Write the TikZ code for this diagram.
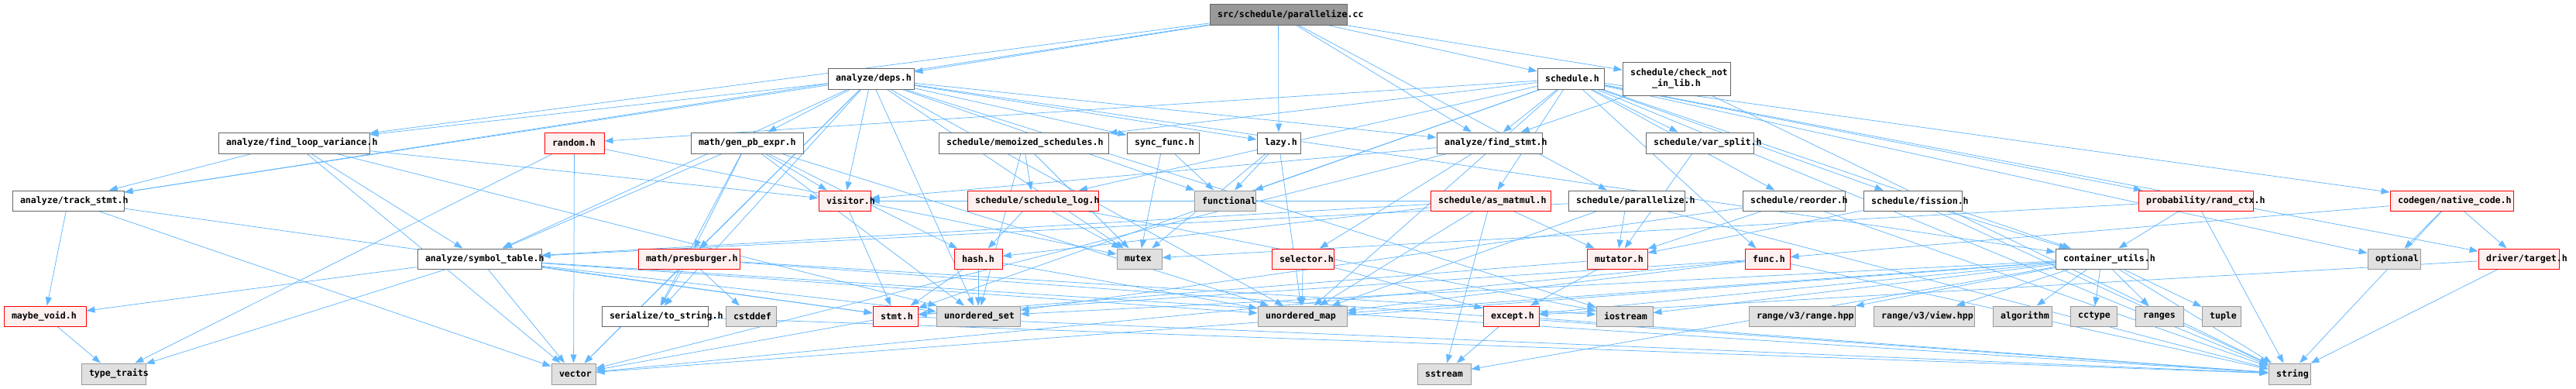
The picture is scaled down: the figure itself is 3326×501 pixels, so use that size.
\documentclass[tikz,border=0pt]{standalone}
\usepackage{fontspec}
\usetikzlibrary{arrows.meta}
\newfontfamily\dox{DejaVu Sans Mono}[BoldFont={DejaVu Sans Mono Bold}]
\definecolor{edgec}{HTML}{63B8FF}
\definecolor{wborder}{HTML}{666666}
\definecolor{rfill}{HTML}{FFF0F0}
\definecolor{rborder}{HTML}{FF0000}
\definecolor{gfill}{HTML}{E0E0E0}
\definecolor{gborder}{HTML}{999999}
\definecolor{tfill}{HTML}{999999}
\pgfdeclarelayer{paper}
\pgfdeclarelayer{bg}
\pgfsetlayers{paper,bg,main}
\tikzset{
  boxbase/.style={rectangle, line width=1pt, inner xsep=10pt, inner ysep=0pt, align=left,
    font=\dox\bfseries\fontsize{11.6}{14}\selectfont},
  wbox/.style={boxbase, draw=wborder, fill=white},
  rbox/.style={boxbase, draw=rborder, fill=rfill},
  gbox/.style={boxbase, draw=gborder, fill=gfill},
  tbox/.style={boxbase, draw=wborder, fill=tfill},
  dep/.style={draw=edgec, line width=0.75pt, -{Triangle[length=11pt,width=8pt]}}
}
\newcommand\bx[7]{%
  \pgfmathsetmacro\bxw{#3-#2-20}%
  \pgfmathsetmacro\bxh{#5-#4}%
  \pgfmathsetmacro\bxx{(#2+#3)/2}%
  \pgfmathsetmacro\bxy{(#4+#5)/2}%
  \node[#6, text width=\bxw pt, minimum height=\bxh pt] (#1) at (\bxx,\bxy) {\mbox{#7}};}
\begin{document}
\begin{tikzpicture}[x=1pt,y=-1pt]
\useasboundingbox (0,0) rectangle (3326,501);
\begin{pgfonlayer}{paper}
\fill[white] (0,0) rectangle (3326,501);
\end{pgfonlayer}
% row 0
\bx{T}{1562}{1739}{5}{32}{tbox}{src/schedule/parallelize.cc}
% row 1
\bx{deps}{1069}{1180}{88}{115}{wbox}{analyze/deps.h}
\bx{sched}{1985}{2071}{88}{115}{wbox}{schedule.h}
\pgfmathsetmacro\bxw{139-20}
\node[wbox, align=center, text width=\bxw pt, minimum height=43pt] (cnil) at (2164.5,101.5) {schedule/check\_not\\\_in\_lib.h};
% row 2
\bx{fl}{282}{477}{171}{198}{wbox}{analyze/find\_loop\_variance.h}
\bx{random}{703}{780}{171}{198}{rbox}{random.h}
\bx{gpb}{892}{1037}{171}{198}{wbox}{math/gen\_pb\_expr.h}
\bx{memo}{1212}{1431}{171}{198}{wbox}{schedule/memoized\_schedules.h}
\bx{sync}{1455}{1548}{171}{198}{wbox}{sync\_func.h}
\bx{lazy}{1623}{1679}{171}{198}{wbox}{lazy.h}
\bx{fs}{1855}{1991}{171}{198}{wbox}{analyze/find\_stmt.h}
\bx{vs}{2125}{2264}{171}{198}{wbox}{schedule/var\_split.h}
% row 3
\bx{ts}{16}{160}{246}{272}{wbox}{analyze/track\_stmt.h}
\bx{visitor}{1057}{1124}{246}{272}{rbox}{visitor.h}
\bx{slog}{1249}{1418}{246}{272}{rbox}{schedule/schedule\_log.h}
\bx{functional}{1542}{1621}{246}{272}{gbox}{functional}
\bx{asm}{1847}{2002}{246}{272}{rbox}{schedule/as\_matmul.h}
\bx{parh}{2025}{2175}{246}{272}{wbox}{schedule/parallelize.h}
\bx{reorder}{2250}{2382}{246}{272}{wbox}{schedule/reorder.h}
\bx{fission}{2406}{2533}{246}{272}{wbox}{schedule/fission.h}
\bx{randctx}{2761}{2909}{246}{272}{rbox}{probability/rand\_ctx.h}
\bx{native}{3086}{3245}{246}{272}{rbox}{codegen/native\_code.h}
% row 4
\bx{symtab}{539}{699}{321}{347}{wbox}{analyze/symbol\_table.h}
\bx{presb}{824}{955}{321}{347}{rbox}{math/presburger.h}
\bx{hash}{1232}{1294}{321}{347}{rbox}{hash.h}
\bx{mutex}{1442}{1500}{321}{347}{gbox}{mutex}
\bx{selector}{1642}{1722}{321}{347}{rbox}{selector.h}
\bx{mutator}{2049}{2127}{321}{347}{rbox}{mutator.h}
\bx{func}{2253}{2311}{321}{347}{rbox}{func.h}
\bx{cu}{2654}{2773}{321}{347}{wbox}{container\_utils.h}
\bx{optional}{3057}{3125}{321}{347}{gbox}{optional}
\bx{target}{3200}{3304}{321}{347}{rbox}{driver/target.h}
% row 5
\bx{mvoid}{5}{111}{395}{421}{rbox}{maybe\_void.h}
\bx{tostr}{777}{914}{395}{421}{wbox}{serialize/to\_string.h}
\bx{cstddef}{937}{1002}{395}{421}{gbox}{cstddef}
\bx{stmt}{1127}{1185}{395}{421}{rbox}{stmt.h}
\bx{uset}{1209}{1317}{395}{421}{gbox}{unordered\_set}
\bx{umap}{1624}{1739}{395}{421}{gbox}{unordered\_map}
\bx{except}{1915}{1987}{395}{421}{rbox}{except.h}
\bx{iostream}{2061}{2134}{395}{421}{gbox}{iostream}
\bx{rrange}{2258}{2395}{395}{421}{gbox}{range/v3/range.hpp}
\bx{rview}{2419}{2549}{395}{421}{gbox}{range/v3/view.hpp}
\bx{algorithm}{2573}{2649}{395}{421}{gbox}{algorithm}
\bx{cctype}{2673}{2733}{395}{421}{gbox}{cctype}
\bx{ranges}{2757}{2819}{395}{421}{gbox}{ranges}
\bx{tuple}{2843}{2893}{395}{421}{gbox}{tuple}
% row 6
\bx{tt}{105}{188}{469}{496}{gbox}{type\_traits}
\bx{vector}{712}{769}{469}{496}{gbox}{vector}
\bx{sstream}{1830}{1899}{469}{496}{gbox}{sstream}
\bx{string}{2929}{2983}{469}{496}{gbox}{string}
\begin{pgfonlayer}{bg}
\foreach \src/\dst in {
 T/deps, T/fl, T/ts, T/lazy, T/fs, T/sched, T/cnil, T/parh,
 deps/fl, deps/ts, deps/symtab, deps/gpb, deps/presb, deps/visitor, deps/sync, deps/lazy,
 deps/fs, deps/functional, deps/mutex, deps/umap, deps/uset, deps/vector, deps/iostream, deps/cu,
 deps/tostr,
 sched/memo, sched/slog, sched/random, sched/fs, sched/vs, sched/asm, sched/reorder, sched/fission,
 sched/randctx, sched/native, sched/target, sched/func, sched/cu, sched/functional, sched/stmt,
 sched/umap, sched/string, sched/optional,
 cnil/fs, cnil/string,
 fl/ts, fl/symtab, fl/visitor, fl/vector, fl/uset,
 ts/mvoid, ts/stmt, ts/vector,
 mvoid/tt,
 symtab/mvoid, symtab/stmt, symtab/uset, symtab/umap, symtab/string, symtab/vector, symtab/tt,
 gpb/symtab, gpb/presb, gpb/visitor, gpb/hash, gpb/uset, gpb/umap, gpb/tostr,
 presb/tostr, presb/cstddef, presb/vector, presb/string, presb/iostream,
 random/tt, random/mutex, random/vector,
 memo/slog, memo/mutex, memo/uset,
 sync/functional, sync/mutex,
 lazy/functional, lazy/mutex, lazy/umap,
 visitor/stmt,
 slog/hash, slog/mutex, slog/iostream,
 hash/stmt, hash/uset, hash/umap,
 asm/mutator, asm/sstream, asm/umap, asm/symtab, asm/visitor, asm/hash,
 parh/mutator, parh/symtab, parh/umap, parh/string,
 reorder/mutator, reorder/string, reorder/uset,
 fission/mutator, fission/string, fission/cu,
 vs/mutator,
 randctx/cu, randctx/string, randctx/mutex,
 native/optional, native/target, native/string, native/func,
 target/string, target/except,
 func/stmt, func/umap, func/string, func/vector,
 cu/rrange, cu/rview, cu/algorithm, cu/cctype, cu/ranges, cu/tuple, cu/string, cu/iostream,
 cu/sstream, cu/umap, cu/uset, cu/vector, cu/except,
 mutator/except, mutator/stmt,
 except/sstream, except/string,
 selector/umap, selector/except,
 stmt/vector, stmt/string,
 fs/selector, fs/visitor, fs/vector,
 tostr/string}
 {\draw[dep] (\src) -- (\dst);}
\end{pgfonlayer}
\end{tikzpicture}
\end{document}
